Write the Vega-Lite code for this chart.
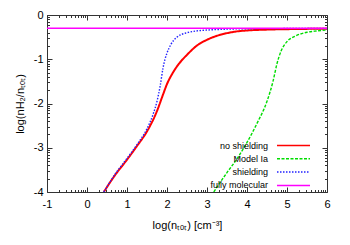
{
  "$schema": "https://vega.github.io/schema/vega-lite/v6.json",
  "width": 280,
  "height": 177,
  "autosize": "none",
  "padding": {"left": 47, "top": 15, "right": 23, "bottom": 53},
  "config": {
    "font": "Liberation Sans",
    "view": {"stroke": "#333", "strokeWidth": 1},
    "axis": {
      "grid": false,
      "domain": false,
      "tickColor": "#333",
      "labelFont": "Liberation Sans",
      "labelFontSize": 11,
      "labelColor": "#000",
      "titleFont": "Liberation Sans",
      "titleFontSize": 11,
      "titleFontWeight": "normal",
      "titleColor": "#000"
    },
    "legend": {
      "labelFont": "Liberation Sans",
      "labelFontSize": 9,
      "labelColor": "#000"
    }
  },
  "data": {
    "values": [
      {"series": "no shielding", "x": 0.42, "y": -4.0},
      {"series": "no shielding", "x": 0.7, "y": -3.62},
      {"series": "no shielding", "x": 1.0, "y": -3.27},
      {"series": "no shielding", "x": 1.25, "y": -2.96},
      {"series": "no shielding", "x": 1.5, "y": -2.63},
      {"series": "no shielding", "x": 1.75, "y": -2.17},
      {"series": "no shielding", "x": 1.9, "y": -1.8},
      {"series": "no shielding", "x": 2.0, "y": -1.56},
      {"series": "no shielding", "x": 2.15, "y": -1.3},
      {"series": "no shielding", "x": 2.3, "y": -1.1},
      {"series": "no shielding", "x": 2.5, "y": -0.9},
      {"series": "no shielding", "x": 2.75, "y": -0.69},
      {"series": "no shielding", "x": 3.0, "y": -0.56},
      {"series": "no shielding", "x": 3.25, "y": -0.47},
      {"series": "no shielding", "x": 3.5, "y": -0.41},
      {"series": "no shielding", "x": 3.75, "y": -0.37},
      {"series": "no shielding", "x": 4.0, "y": -0.35},
      {"series": "no shielding", "x": 4.5, "y": -0.33},
      {"series": "no shielding", "x": 5.0, "y": -0.32},
      {"series": "no shielding", "x": 6.0, "y": -0.31},
      {"series": "Model Ia", "x": 3.17, "y": -4.0},
      {"series": "Model Ia", "x": 3.5, "y": -3.56},
      {"series": "Model Ia", "x": 3.75, "y": -3.25},
      {"series": "Model Ia", "x": 4.0, "y": -2.88},
      {"series": "Model Ia", "x": 4.25, "y": -2.45},
      {"series": "Model Ia", "x": 4.5, "y": -1.95},
      {"series": "Model Ia", "x": 4.65, "y": -1.5},
      {"series": "Model Ia", "x": 4.75, "y": -1.1},
      {"series": "Model Ia", "x": 4.85, "y": -0.82},
      {"series": "Model Ia", "x": 5.0, "y": -0.6},
      {"series": "Model Ia", "x": 5.2, "y": -0.48},
      {"series": "Model Ia", "x": 5.5, "y": -0.39},
      {"series": "Model Ia", "x": 5.75, "y": -0.36},
      {"series": "Model Ia", "x": 6.0, "y": -0.34},
      {"series": "shielding", "x": 0.42, "y": -4.0},
      {"series": "shielding", "x": 0.7, "y": -3.6},
      {"series": "shielding", "x": 1.0, "y": -3.24},
      {"series": "shielding", "x": 1.25, "y": -2.93},
      {"series": "shielding", "x": 1.5, "y": -2.57},
      {"series": "shielding", "x": 1.65, "y": -2.25},
      {"series": "shielding", "x": 1.75, "y": -1.95},
      {"series": "shielding", "x": 1.83, "y": -1.6},
      {"series": "shielding", "x": 1.9, "y": -1.2},
      {"series": "shielding", "x": 1.95, "y": -1.0},
      {"series": "shielding", "x": 2.0, "y": -0.86},
      {"series": "shielding", "x": 2.1, "y": -0.66},
      {"series": "shielding", "x": 2.25, "y": -0.5},
      {"series": "shielding", "x": 2.5, "y": -0.4},
      {"series": "shielding", "x": 2.75, "y": -0.36},
      {"series": "shielding", "x": 3.0, "y": -0.34},
      {"series": "shielding", "x": 3.5, "y": -0.32},
      {"series": "shielding", "x": 4.0, "y": -0.31},
      {"series": "shielding", "x": 6.0, "y": -0.305},
      {"series": "fully molecular", "x": -1.0, "y": -0.301},
      {"series": "fully molecular", "x": 6.0, "y": -0.301}
    ]
  },
  "layer": [
    {
      "mark": {"type": "line", "interpolate": "monotone", "clip": true},
      "encoding": {
        "x": {
          "field": "x", "type": "quantitative",
          "scale": {"domain": [-1, 6], "nice": false, "zero": false},
          "title": "log(nₜₒₜ) [cm⁻³]",
          "axis": {
            "orient": "bottom",
            "values": [-1, -0.699, -0.523, -0.398, -0.301, -0.222, -0.155, -0.097, -0.046, 0, 0.301, 0.477, 0.602, 0.699, 0.778, 0.845, 0.903, 0.954, 1, 1.301, 1.477, 1.602, 1.699, 1.778, 1.845, 1.903, 1.954, 2, 2.301, 2.477, 2.602, 2.699, 2.778, 2.845, 2.903, 2.954, 3, 3.301, 3.477, 3.602, 3.699, 3.778, 3.845, 3.903, 3.954, 4, 4.301, 4.477, 4.602, 4.699, 4.778, 4.845, 4.903, 4.954, 5, 5.301, 5.477, 5.602, 5.699, 5.778, 5.845, 5.903, 5.954, 6],
            "labelExpr": "datum.value % 1 === 0 ? '' + datum.value : ''",
            "tickSize": {"condition": {"test": "datum.value % 1 === 0", "value": -5}, "value": -2.5},
            "labelPadding": 11,
            "labelFlush": false,
            "labelOverlap": false,
            "titlePadding": 8
          }
        },
        "y": {
          "field": "y", "type": "quantitative",
          "scale": {"domain": [-4, 0], "nice": false, "zero": false},
          "title": "log(nH₂/nₜₒₜ)",
          "axis": {
            "orient": "left",
            "values": [-4, -3.699, -3.523, -3.398, -3.301, -3.222, -3.155, -3.097, -3.046, -3, -2.699, -2.523, -2.398, -2.301, -2.222, -2.155, -2.097, -2.046, -2, -1.699, -1.523, -1.398, -1.301, -1.222, -1.155, -1.097, -1.046, -1, -0.699, -0.523, -0.398, -0.301, -0.222, -0.155, -0.097, -0.046, 0],
            "labelExpr": "datum.value % 1 === 0 ? '' + datum.value : ''",
            "tickSize": {"condition": {"test": "datum.value % 1 === 0", "value": -5}, "value": -2.5},
            "labelPadding": 9,
            "labelFlush": false,
            "labelOverlap": false,
            "titlePadding": 8
          }
        },
        "strokeWidth": {"condition": {"test": "datum.series === 'no shielding'", "value": 2}, "value": 1.4},
        "color": {
          "field": "series", "type": "nominal",
          "scale": {"domain": ["no shielding", "Model Ia", "shielding", "fully molecular"], "range": ["#ff0000", "#00dd00", "#2222ff", "#ff00ff"]},
          "legend": {
            "title": null,
            "orient": "none",
            "legendX": 240,
            "legendY": 124,
            "symbolType": "M-3,0H3",
            "symbolSize": 121,
            "symbolStrokeWidth": 1.5,
            "labelAlign": "right",
            "labelOffset": -32,
            "rowPadding": 1.3
          }
        },
        "strokeDash": {
          "field": "series", "type": "nominal",
          "scale": {"domain": ["no shielding", "Model Ia", "shielding", "fully molecular"], "range": [[1, 0], [3, 1.5], [1.5, 1.5], [1, 0]]},
          "legend": {
            "title": null,
            "orient": "none",
            "legendX": 240,
            "legendY": 124,
            "symbolType": "M-3,0H3",
            "symbolSize": 121,
            "symbolStrokeWidth": 1.5,
            "labelAlign": "right",
            "labelOffset": -32,
            "rowPadding": 1.3
          }
        }
      }
    },
    {
      "mark": {"type": "point", "opacity": 0},
      "encoding": {
        "x": {
          "field": "x", "type": "quantitative",
          "axis": {
            "orient": "top",
            "title": null,
            "labels": false,
            "values": [-1, -0.699, -0.523, -0.398, -0.301, -0.222, -0.155, -0.097, -0.046, 0, 0.301, 0.477, 0.602, 0.699, 0.778, 0.845, 0.903, 0.954, 1, 1.301, 1.477, 1.602, 1.699, 1.778, 1.845, 1.903, 1.954, 2, 2.301, 2.477, 2.602, 2.699, 2.778, 2.845, 2.903, 2.954, 3, 3.301, 3.477, 3.602, 3.699, 3.778, 3.845, 3.903, 3.954, 4, 4.301, 4.477, 4.602, 4.699, 4.778, 4.845, 4.903, 4.954, 5, 5.301, 5.477, 5.602, 5.699, 5.778, 5.845, 5.903, 5.954, 6],
            "tickSize": {"condition": {"test": "datum.value % 1 === 0", "value": -5}, "value": -2.5}
          }
        },
        "y": {
          "field": "y", "type": "quantitative",
          "axis": {
            "orient": "right",
            "title": null,
            "labels": false,
            "values": [-4, -3.699, -3.523, -3.398, -3.301, -3.222, -3.155, -3.097, -3.046, -3, -2.699, -2.523, -2.398, -2.301, -2.222, -2.155, -2.097, -2.046, -2, -1.699, -1.523, -1.398, -1.301, -1.222, -1.155, -1.097, -1.046, -1, -0.699, -0.523, -0.398, -0.301, -0.222, -0.155, -0.097, -0.046, 0],
            "tickSize": {"condition": {"test": "datum.value % 1 === 0", "value": -5}, "value": -2.5}
          }
        }
      }
    }
  ],
  "resolve": {"axis": {"x": "independent", "y": "independent"}}
}
